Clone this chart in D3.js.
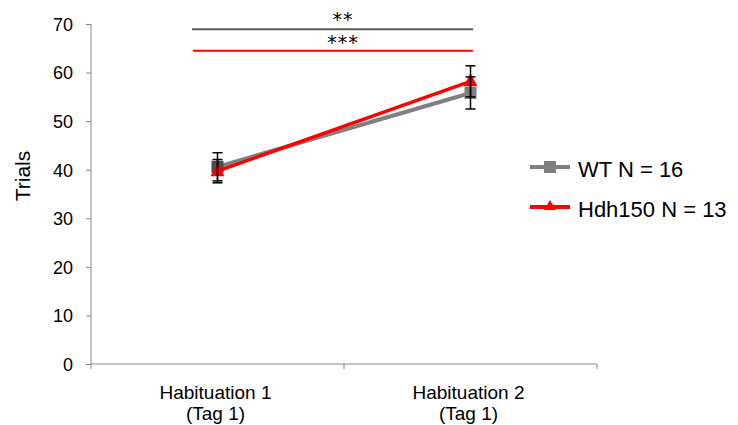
<!DOCTYPE html>
<html><head><meta charset="utf-8">
<script src="https://cdn.jsdelivr.net/npm/d3@7"></script>
<style>body{margin:0;background:#fff}svg{font-family:"Liberation Sans",Arial,sans-serif}</style>
</head><body>
<svg id="c" width="738" height="425"></svg>
<script>
const categories = [["Habituation 1","(Tag 1)"],["Habituation 2","(Tag 1)"]];
const catKeys = ["Habituation 1","Habituation 2"];
const wtMean = [40.6, 55.8];
const wtErr = [2.9, 3.3];
const hdhMean = [39.7, 58.2];
const hdhErr = [2.4, 3.2];
const yTicks = [0,10,20,30,40,50,60,70];
const seriesNames = ["WT N = 16","Hdh150 N = 13"];
const sigLabels = ["**","***"];

const FF = "Liberation Sans, Arial, sans-serif";
const svg = d3.select("#c");
const x = d3.scaleBand().domain(catKeys).range([91, 597]);
const y = d3.scaleLinear().domain([0,70]).range([364, 24]);
const cx = k => x(k) + x.bandwidth()/2;

// y axis
const ya = svg.append("g").attr("transform","translate(91,0)")
  .call(d3.axisLeft(y).tickValues(yTicks).tickSize(5).tickPadding(13));
ya.select(".domain").attr("stroke","#898989").attr("d","M0,24V364");
ya.selectAll(".tick line").attr("stroke","#898989");
ya.selectAll("text").attr("font-size",18).attr("fill","#000").attr("font-family",FF).attr("dy","0.35em");

// x axis
const xa = svg.append("g").attr("transform","translate(0,364)")
  .call(d3.axisBottom(x).tickSize(0).tickFormat(""));
xa.select(".domain").attr("stroke","#898989").attr("d","M91,0H597");
xa.selectAll(".tick").remove();
[91, x(catKeys[1]), 597].forEach(v=>{
  xa.append("line").attr("x1",v).attr("x2",v).attr("y1",0).attr("y2",5).attr("stroke","#898989");
});
categories.forEach((lines,i)=>{
  const c = cx(catKeys[i]) - 2;
  const t = svg.append("text").attr("text-anchor","middle")
    .attr("font-size",19).attr("fill","#000").attr("font-family",FF);
  lines.forEach((l,j)=>t.append("tspan").attr("x",c).attr("y",399+j*21).text(l));
});

// y label
svg.append("text").attr("transform","translate(30,176) rotate(-90)").attr("text-anchor","middle")
  .attr("font-size",21).attr("fill","#000").attr("font-family",FF).text("Trials");

// significance
svg.append("line").attr("x1",192).attr("x2",473).attr("y1",y(68.9)).attr("y2",y(68.9)).attr("stroke","#595959").attr("stroke-width",2);
svg.append("line").attr("x1",193).attr("x2",473).attr("y1",y(64.5)).attr("y2",y(64.5)).attr("stroke","#ff0000").attr("stroke-width",2);
const AF = "DejaVu Sans, sans-serif";
svg.append("text").attr("x",343).attr("y",26).attr("text-anchor","middle").attr("font-size",19).attr("letter-spacing",1).attr("fill","#000").attr("font-family",AF).text(sigLabels[0]);
svg.append("text").attr("x",343).attr("y",49).attr("text-anchor","middle").attr("font-size",19).attr("letter-spacing",1).attr("fill","#000").attr("font-family",AF).text(sigLabels[1]);

const line = d3.line().x((d,i)=>cx(catKeys[i])).y(d=>y(d));

// WT
svg.append("path").attr("d",line(wtMean)).attr("fill","none").attr("stroke","#808080").attr("stroke-width",4);
wtMean.forEach((m,i)=>{
  svg.append("rect").attr("x",cx(catKeys[i])-6).attr("y",y(m)-6).attr("width",12).attr("height",12).attr("fill", i===0 ? "#4d4d4d" : "#7f7f7f");
});
// Hdh
svg.append("path").attr("d",line(hdhMean)).attr("fill","none").attr("stroke","#ff0000").attr("stroke-width",3.5);
hdhMean.forEach((m,i)=>{
  const X=cx(catKeys[i]), Y=y(m);
  svg.append("path").attr("d",`M${X},${Y-8}L${X+7},${Y+5}L${X-7},${Y+5}Z`).attr("fill","#ff0000");
});

// error bars
function eb(means, errs){
  means.forEach((m,i)=>{
    const X=cx(catKeys[i]);
    const g=svg.append("g").attr("stroke","#000").attr("stroke-width",1.5);
    g.append("line").attr("x1",X).attr("x2",X).attr("y1",y(m-errs[i])).attr("y2",y(m+errs[i]));
    [m-errs[i],m+errs[i]].forEach(v=>g.append("line").attr("x1",X-5).attr("x2",X+5).attr("y1",y(v)).attr("y2",y(v)));
  });
}
eb(wtMean, wtErr);
eb(hdhMean, hdhErr);

// legend
const lg = [{c:"#808080",t:seriesNames[0],yy:167,m:"sq"},{c:"#ff0000",t:seriesNames[1],yy:207,m:"tri"}];
lg.forEach(d=>{
  svg.append("line").attr("x1",530).attr("x2",570).attr("y1",d.yy).attr("y2",d.yy).attr("stroke",d.c).attr("stroke-width",4);
  if(d.m==="sq") svg.append("rect").attr("x",544).attr("y",d.yy-6).attr("width",12).attr("height",12).attr("fill",d.c);
  else svg.append("path").attr("d",`M550,${d.yy-7}L556,${d.yy+3}L544,${d.yy+3}Z`).attr("fill",d.c);
  svg.append("text").attr("x",578).attr("y",d.yy+10).attr("font-size",22).attr("fill","#000").attr("font-family",FF).text(d.t);
});
</script>
</body></html>
